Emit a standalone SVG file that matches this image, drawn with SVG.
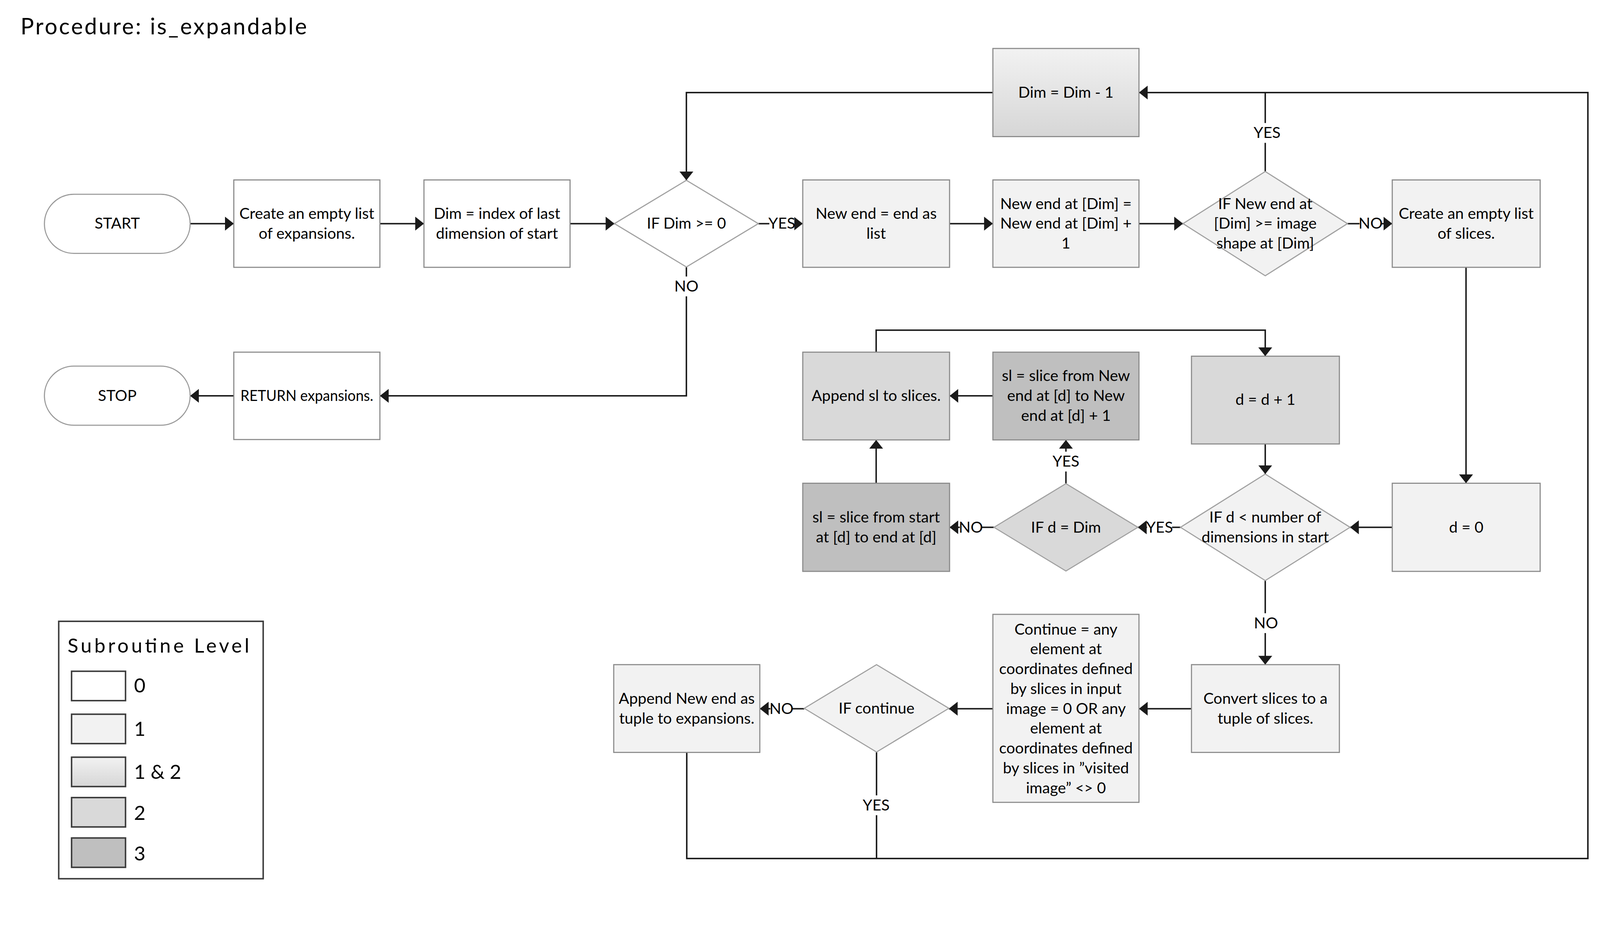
<svg xmlns="http://www.w3.org/2000/svg" width="4359" height="2431" viewBox="0 0 4359 2431" preserveAspectRatio="xMinYMin meet" style="width:100%;height:100%;display:block">
<defs>
<linearGradient id="g12" x1="0" y1="0" x2="0" y2="1"><stop offset="0" stop-color="#f2f2f2"/><stop offset="1" stop-color="#d6d6d6"/></linearGradient>
<marker id="ah" markerUnits="userSpaceOnUse" markerWidth="24" markerHeight="38" viewBox="0 0 24 38" refX="24" refY="19" orient="auto"><path d="M0,0 L24,19 L0,38 Z" fill="#1a1a1a"/></marker>
</defs>
<style>
.t{font-family:Lato,"Liberation Sans",sans-serif;font-size:42px;fill:#000;text-anchor:middle}
.n{stroke:#8a8a8a;stroke-width:3}
.d{stroke:#a0a0a0;stroke-width:3}
.l0{fill:#fff}.l1{fill:#f2f2f2}.l2{fill:#d9d9d9}.l3{fill:#bfbfbf}.l12{fill:url(#g12)}
.c{fill:none;stroke:#1a1a1a;stroke-width:4}
.a{marker-end:url(#ah)}
.lb{fill:#fff}
.sw{stroke:#3a3a3a;stroke-width:4}
.lg{font-family:Lato,"Liberation Sans",sans-serif;font-size:54px;fill:#000}
</style>
<rect x="0" y="0" width="4359" height="2431" fill="#fff"/>
<text x="56" y="94" font-family="Lato,'Liberation Sans',sans-serif" font-size="61" textLength="780" lengthAdjust="spacing">Procedure: is_expandable</text>

<g id="connectors">
<path class="c a" d="M518,609 H637"/>
<path class="c a" d="M1035,609 H1155"/>
<path class="c a" d="M1553,609 H1674"/>
<path class="c a" d="M2066,609 H2187"/>
<path class="c a" d="M2587,609 H2705"/>
<path class="c a" d="M3103,609 H3223"/>
<path class="c a" d="M3671,609 H3793"/>
<path class="c" d="M3447,467 V252"/>
<path class="c a" d="M2705,252 H1870 V491"/>
<path class="c a" d="M1870,727 V1078 H1035"/>
<path class="c a" d="M637,1078 H518"/>
<path class="c a" d="M3994,728 V1316"/>
<path class="c a" d="M3793,1436 H3678"/>
<path class="c a" d="M3216,1436 H3100"/>
<path class="c a" d="M2708,1436 H2587"/>
<path class="c a" d="M2904,1317 V1198"/>
<path class="c a" d="M2705,1078 H2587"/>
<path class="c a" d="M2387,1316 V1198"/>
<path class="c a" d="M2387,959 V899 H3447 V970"/>
<path class="c a" d="M3447,1209 V1291"/>
<path class="c a" d="M3447,1581 V1810"/>
<path class="c a" d="M3246,1930 H3103"/>
<path class="c a" d="M2705,1930 H2585"/>
<path class="c a" d="M2191,1930 H2070"/>
<path class="c" d="M2388,2048 V2338"/>
<path class="c a" d="M1871,2049 V2338 H4326 V252 H3103"/>
<g id="labels">
<rect class="lb" x="2096" y="582" width="68" height="54"/><text class="t" x="2130" y="623">YES</text>
<rect class="lb" x="1840" y="753" width="60" height="54"/><text class="t" x="1870" y="794">NO</text>
<rect class="lb" x="3418" y="335" width="68" height="54"/><text class="t" x="3452" y="376">YES</text>
<rect class="lb" x="3704" y="582" width="60" height="54"/><text class="t" x="3734" y="623">NO</text>
<rect class="lb" x="3125" y="1409" width="68" height="54"/><text class="t" x="3159" y="1450">YES</text>
<rect class="lb" x="2615" y="1409" width="60" height="54"/><text class="t" x="2645" y="1450">NO</text>
<rect class="lb" x="2870" y="1230" width="68" height="54"/><text class="t" x="2904" y="1271">YES</text>
<rect class="lb" x="3419" y="1670" width="60" height="54"/><text class="t" x="3449" y="1711">NO</text>
<rect class="lb" x="2099" y="1903" width="60" height="54"/><text class="t" x="2129" y="1944">NO</text>
<rect class="lb" x="2353" y="2166" width="68" height="54"/><text class="t" x="2387" y="2207">YES</text>
</g>
</g>

<g id="start"><rect class="l0" x="121" y="529" width="397" height="161" rx="80.5" stroke="#9a9a9a" stroke-width="3"/><text class="t" x="319.5" y="623">START</text></g>
<g id="create_expansions"><rect class="n l0" x="637" y="490" width="398" height="238"/><text class="t" x="836" y="596">Create an empty list</text><text class="t" x="836" y="650">of expansions.</text></g>
<g id="dim_index"><rect class="n l0" x="1155" y="490" width="398" height="238"/><text class="t" x="1354" y="596">Dim = index of last</text><text class="t" x="1354" y="650">dimension of start</text></g>
<g id="if_dim"><polygon class="d l0" points="1674,609 1870,491 2066,609 1870,727"/><text class="t" x="1870" y="623">IF Dim &gt;= 0</text></g>
<g id="new_end"><rect class="n l1" x="2187" y="490" width="400" height="238"/><text class="t" x="2387" y="596">New end = end as</text><text class="t" x="2387" y="650">list</text></g>
<g id="new_end_inc"><rect class="n l1" x="2705" y="490" width="398" height="238"/><text class="t" x="2904" y="569">New end at [Dim] =</text><text class="t" x="2904" y="623">New end at [Dim] +</text><text class="t" x="2904" y="677">1</text></g>
<g id="dim_dec"><rect class="n l12" x="2705" y="132" width="398" height="240"/><text class="t" x="2904" y="266">Dim = Dim - 1</text></g>
<g id="if_new_end"><polygon class="d l1" points="3223,609 3447,467 3671,609 3447,751"/><text class="t" x="3447" y="569">IF New end at</text><text class="t" x="3447" y="623">[Dim] &gt;= image</text><text class="t" x="3447" y="677">shape at [Dim]</text></g>
<g id="create_slices"><rect class="n l1" x="3793" y="490" width="403" height="238"/><text class="t" x="3994.5" y="596">Create an empty list</text><text class="t" x="3994.5" y="650">of slices.</text></g>
<g id="stop"><rect class="l0" x="121" y="997" width="397" height="161" rx="80.5" stroke="#9a9a9a" stroke-width="3"/><text class="t" x="319.5" y="1092">STOP</text></g>
<g id="return"><rect class="n l0" x="637" y="959" width="398" height="238"/><text class="t" x="836" y="1092" textLength="362" lengthAdjust="spacingAndGlyphs">RETURN expansions.</text></g>
<g id="append_sl"><rect class="n l2" x="2187" y="959" width="400" height="239"/><text class="t" x="2387" y="1092">Append sl to slices.</text></g>
<g id="sl_new_end"><rect class="n l3" x="2705" y="959" width="398" height="239"/><text class="t" x="2904" y="1038">sl = slice from New</text><text class="t" x="2904" y="1092">end at [d] to New</text><text class="t" x="2904" y="1146">end at [d] + 1</text></g>
<g id="d_inc"><rect class="n l2" x="3246" y="970" width="403" height="239"/><text class="t" x="3447.5" y="1103">d = d + 1</text></g>
<g id="sl_start"><rect class="n l3" x="2187" y="1316" width="400" height="240"/><text class="t" x="2387" y="1423">sl = slice from start</text><text class="t" x="2387" y="1477">at [d] to end at [d]</text></g>
<g id="if_d_dim"><polygon class="d l2" points="2708,1436 2904,1317 3100,1436 2904,1555"/><text class="t" x="2904" y="1450">IF d = Dim</text></g>
<g id="if_d_lt"><polygon class="d l1" points="3216,1436 3447,1291 3678,1436 3447,1581"/><text class="t" x="3447" y="1423">IF d &lt; number of</text><text class="t" x="3447" y="1477">dimensions in start</text></g>
<g id="d0"><rect class="n l1" x="3793" y="1316" width="403" height="240"/><text class="t" x="3994.5" y="1450">d = 0</text></g>
<g id="convert"><rect class="n l1" x="3246" y="1810" width="403" height="239"/><text class="t" x="3447.5" y="1917">Convert slices to a</text><text class="t" x="3447.5" y="1971">tuple of slices.</text></g>
<g id="continue"><rect class="n l1" x="2705" y="1673" width="398" height="512"/>
<text class="t" x="2904" y="1728">Continue = any</text><text class="t" x="2904" y="1782">element at</text><text class="t" x="2904" y="1836">coordinates defined</text><text class="t" x="2904" y="1890">by slices in input</text><text class="t" x="2904" y="1944">image = 0 OR any</text><text class="t" x="2904" y="1998">element at</text><text class="t" x="2904" y="2052">coordinates defined</text><text class="t" x="2904" y="2106">by slices in ”visited</text><text class="t" x="2904" y="2160">image” &lt;&gt; 0</text></g>
<g id="if_continue"><polygon class="d l1" points="2191,1929 2388,1810 2585,1929 2388,2048"/><text class="t" x="2388" y="1943">IF continue</text></g>
<g id="append_new_end"><rect class="n l1" x="1672" y="1810" width="398" height="239"/><text class="t" x="1871" y="1917">Append New end as</text><text class="t" x="1871" y="1971">tuple to expansions.</text></g>

<g id="legend">
<rect x="160" y="1692" width="557" height="701" fill="#fff" stroke="#3a3a3a" stroke-width="4"/>
<text class="lg" x="184" y="1777" textLength="495" lengthAdjust="spacing">Subroutine Level</text>
<rect class="sw l0" x="195" y="1828" width="147" height="80"/><text class="lg" x="365" y="1886">0</text>
<rect class="sw l1" x="195" y="1945" width="147" height="80"/><text class="lg" x="365" y="2004">1</text>
<rect class="sw l12" x="195" y="2062" width="147" height="80"/><text class="lg" x="365" y="2121">1 &amp; 2</text>
<rect class="sw l2" x="195" y="2172" width="147" height="80"/><text class="lg" x="365" y="2233">2</text>
<rect class="sw l3" x="195" y="2282" width="147" height="80"/><text class="lg" x="365" y="2343">3</text>
</g>
</svg>
